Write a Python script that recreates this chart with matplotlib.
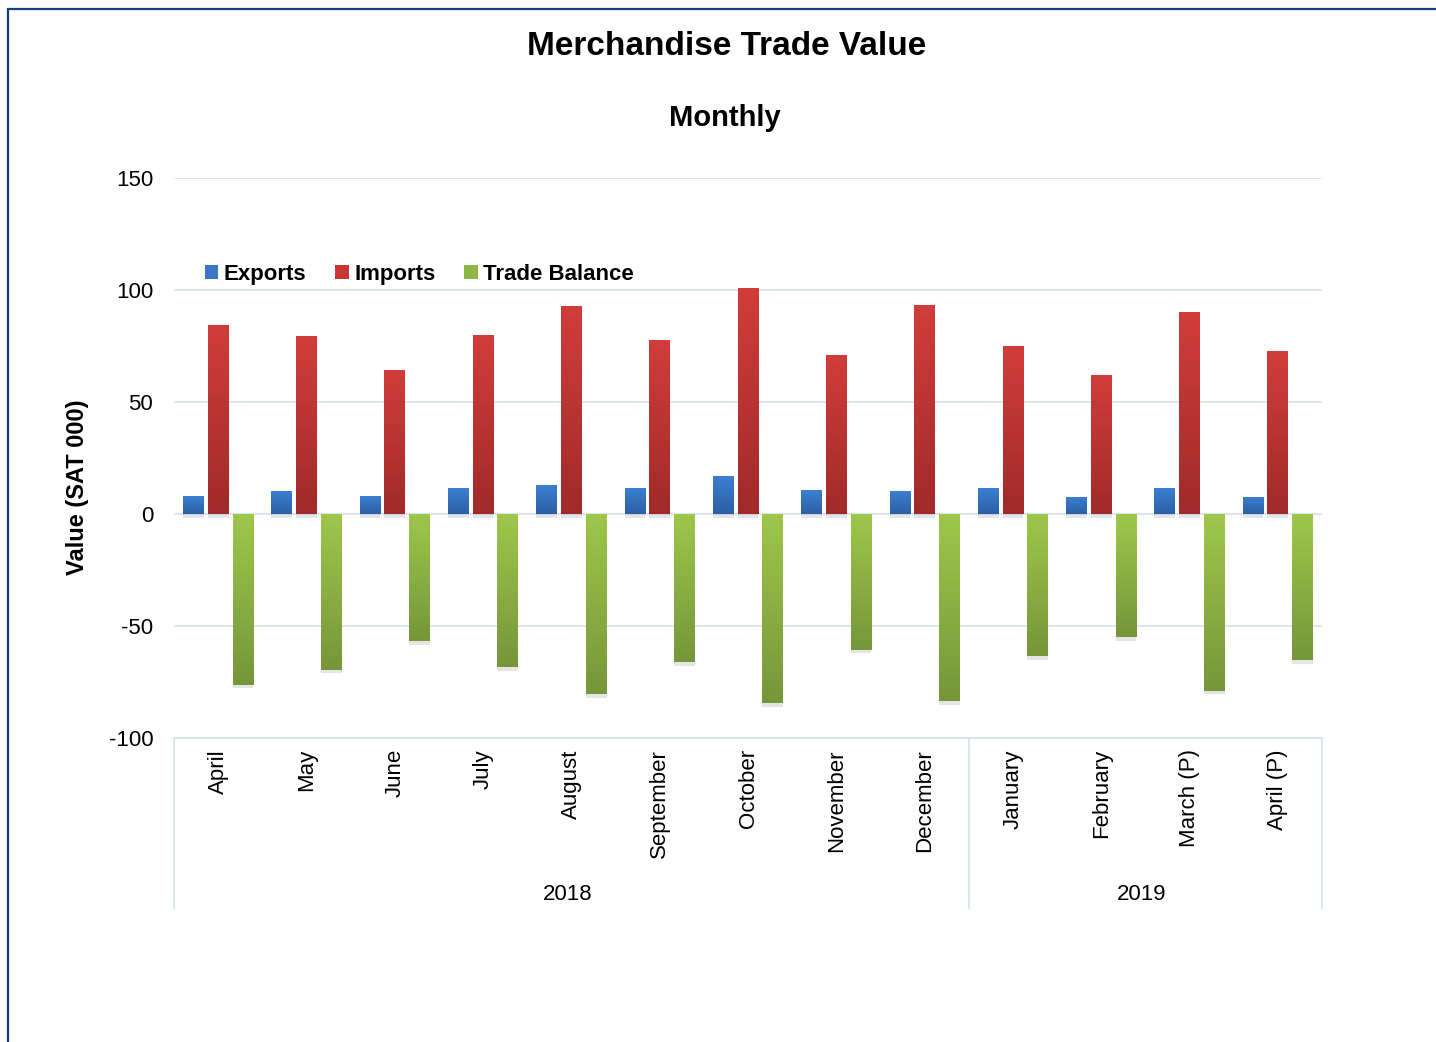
import numpy as np
import matplotlib
matplotlib.use('Agg')
import matplotlib.pyplot as plt
from matplotlib.colors import LinearSegmentedColormap
from matplotlib.patches import Rectangle, Patch
import matplotlib.patheffects as pe

plt.rcParams['font.family'] = ['Liberation Sans', 'DejaVu Sans']

months = ['April', 'May', 'June', 'July', 'August', 'September', 'October',
          'November', 'December', 'January', 'February', 'March (P)', 'April (P)']
years = ['2018', '2019']
year_counts = [9, 4]

exports = [8.0, 10.3, 8.0, 11.6, 12.9, 11.6, 17.0, 10.7, 10.3, 11.6, 7.6, 11.6, 7.6]
imports = [84.4, 79.5, 64.3, 79.9, 92.9, 77.7, 100.9, 71.0, 93.3, 75.0, 62.0, 90.2, 72.8]
balance = [-76.3, -69.6, -56.7, -68.3, -80.4, -66.1, -84.4, -60.7, -83.5, -63.4, -54.9, -79.0, -65.2]

series = [
    ('Exports', exports, '#3C80D2', '#2B5FA3', '#3A76C4'),
    ('Imports', imports, '#D13D3A', '#A02A2A', '#C83736'),
    ('Trade Balance', balance, '#9FC74B', '#76963A', '#8DB644'),
]

grid_col = '#D6E2F0'

fig = plt.figure(figsize=(14.36, 10.42), dpi=100)
ax = fig.add_axes([0.1212, 0.2917, 0.7994, 0.5374])

x = np.arange(len(months))
width = 0.235
offsets = [-0.28, 0.0, 0.28]
grad = np.linspace(0, 1, 256).reshape(-1, 1)

for (name, vals, top, bot, mid), off in zip(series, offsets):
    cmap = LinearSegmentedColormap.from_list(name, [top, bot])
    bars = ax.bar(x + off, vals, width, color=mid, zorder=3,
                  path_effects=[pe.SimplePatchShadow(offset=(0, -2.5), shadow_rgbFace='#999999', alpha=0.25),
                                pe.Normal()])
    for b in bars:
        x0 = b.get_x()
        y0 = b.get_y()
        h = b.get_height()
        ylo, yhi = min(y0, y0 + h), max(y0, y0 + h)
        im = ax.imshow(grad, cmap=cmap, extent=(x0, x0 + width, ylo, yhi),
                       origin='upper', aspect='auto', zorder=4)
        im.set_clip_path(b)

ax.set_xlim(-0.5, len(months) - 0.5)
ax.set_ylim(-100, 150)
ax.set_yticks([-100, -50, 0, 50, 100, 150])
ax.set_yticklabels(['-100', '-50', '0', '50', '100', '150'], fontsize=16)
ax.yaxis.grid(True, color=grid_col, lw=1.2, zorder=0)
ax.set_axisbelow(True)
for s in ['top', 'right', 'left']:
    ax.spines[s].set_visible(False)
ax.spines['bottom'].set_color(grid_col)
ax.spines['bottom'].set_linewidth(1.2)
ax.tick_params(axis='y', length=0, pad=15)
ax.set_xticks(x)
ax.set_xticklabels(months, rotation=90, fontsize=16, va='top', ha='center')
ax.tick_params(axis='x', length=0, pad=8)

ax.set_ylabel('Value (SAT 000)', fontsize=17, fontweight='bold', labelpad=14, y=0.448)

# year group separators and labels
trans = ax.get_xaxis_transform()
bounds = [-0.5]
for c in year_counts:
    bounds.append(bounds[-1] + c)
for b in bounds:
    ax.plot([b, b], [0, -0.3035], color=grid_col, lw=1.2, transform=trans, clip_on=False)
for i, yr in enumerate(years):
    ax.text((bounds[i] + bounds[i + 1]) / 2 - 0.04, -0.279, yr, transform=trans,
            ha='center', va='center', fontsize=16)

fig.text(0.506, 0.955, 'Merchandise Trade Value', ha='center', va='center',
         fontsize=24, fontweight='bold')
fig.text(0.505, 0.887, 'Monthly', ha='center', va='center',
         fontsize=21, fontweight='bold')

handles = [Patch(facecolor=s[4], label=s[0]) for s in series]
leg = fig.legend(handles=handles, loc='center left', bbox_to_anchor=(0.1287, 0.737),
                 ncol=3, frameon=False, handlelength=0.6, handleheight=0.6,
                 handletextpad=0.25, columnspacing=1.3,
                 prop={'size': 16, 'weight': 'bold'})

fig.add_artist(Rectangle((0.0056, -0.05), 1.2, 1.05 - 0.0086, fill=False,
                         edgecolor='#1F3C7C', lw=1.6, transform=fig.transFigure))

fig.savefig('out.png', dpi=100)
